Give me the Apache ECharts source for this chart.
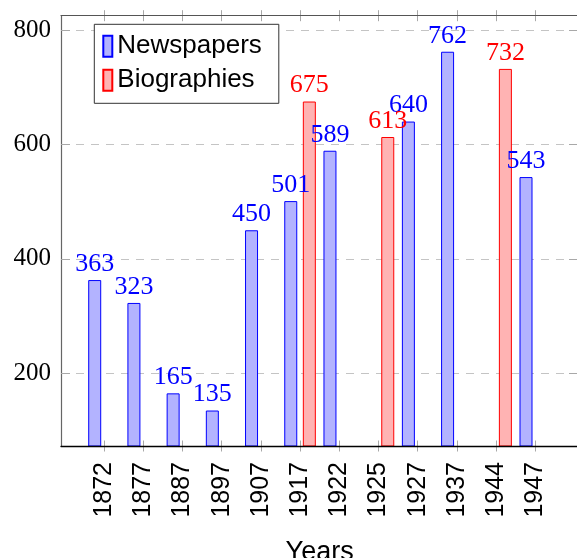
<!DOCTYPE html>
<html>
<head>
<meta charset="utf-8">
<script src="https://cdn.jsdelivr.net/npm/echarts@6/dist/echarts.min.js"></script>
<style>
html,body{margin:0;padding:0;background:#fff;}
#c{width:577px;height:558px;}
</style>
</head>
<body>
<div id="c"></div>
<script>
// ---- data ----
var years = ['1872','1877','1887','1897','1907','1917','1922','1925','1927','1937','1944','1947'];
var newspapers = [363, 323, 165, 135, 450, 501, 589, '-', 640, 762, '-', 543];
var biographies = ['-', '-', '-', '-', '-', 675, '-', 613, '-', '-', 732, '-'];
var yMin = 73, yMax = 825;

var serif = 'Liberation Serif';
var sans = 'Liberation Sans';
var tickGray = '#a8a8a8';

var chart = echarts.init(document.getElementById('c'), null, {renderer: 'canvas'});

function catAxis(pos, inside, extra) {
  var a = {
    type: 'category', gridIndex: 1, data: years, position: pos,
    boundaryGap: true,
    axisLine: {show: false, onZero: false},
    axisTick: {show: true, inside: inside, length: 5.5, alignWithLabel: true, interval: 0,
               lineStyle: {color: tickGray, width: 1}},
    axisLabel: {show: false},
    splitLine: {show: false}
  };
  if (extra) { for (var k in extra) a[k] = extra[k]; }
  return a;
}

var option = {
  animation: false,
  backgroundColor: '#fff',
  grid: [
    {left: 61, top: 15.7, width: 517, height: 430.3, outerBoundsMode: 'none', containLabel: false},
    {left: 84.4, top: 15.7, width: 470.5, height: 430.3, outerBoundsMode: 'none', containLabel: false}
  ],
  legend: {
    data: ['Newspapers', 'Biographies'],
    orient: 'vertical',
    left: 94.3, top: 24.3,
    backgroundColor: '#fff',
    borderColor: '#333', borderWidth: 1, borderRadius: 0,
    padding: [9, 17, 10, 8],
    itemWidth: 9, itemHeight: 21, itemGap: 8,
    icon: 'rect',
    textStyle: {fontFamily: sans, fontSize: 26, color: '#000'}
  },
  xAxis: [
    {type: 'value', gridIndex: 0, min: 0, max: 1, position: 'bottom', z: 5,
     axisLine: {show: true, onZero: false, lineStyle: {color: '#000', width: 1.3}},
     axisTick: {show: false}, axisLabel: {show: false}, splitLine: {show: false}},
    catAxis('bottom', false, {
      axisLabel: {show: true, interval: 0, rotate: 90, margin: 16,
                  fontFamily: sans, fontSize: 25, color: '#000'},
      name: 'Years', nameLocation: 'middle', nameGap: 93,
      nameTextStyle: {fontFamily: sans, fontSize: 27, color: '#000'}
    }),
    catAxis('bottom', true),
    catAxis('top', false),
    catAxis('top', true),
    {type: 'value', gridIndex: 0, min: 0, max: 1, position: 'top', z: 5,
     axisLine: {show: true, onZero: false, lineStyle: {color: '#555', width: 1.2}},
     axisTick: {show: false}, axisLabel: {show: false}, splitLine: {show: false}}
  ],
  yAxis: [
    {type: 'value', gridIndex: 0, min: yMin, max: yMax, position: 'left',
     axisLine: {show: true, onZero: false, lineStyle: {color: '#666', width: 1.2}},
     axisTick: {show: true, inside: true, length: 9, lineStyle: {color: tickGray}},
     axisLabel: {show: true, showMinLabel: false, showMaxLabel: false, margin: 10,
                 fontFamily: serif, fontSize: 25, color: '#000'},
     splitLine: {show: true, showMinLine: false, showMaxLine: false,
                 lineStyle: {color: '#c4c4c4', width: 1, type: [8, 7]}}},
    {type: 'value', gridIndex: 0, min: yMin, max: yMax, position: 'right',
     axisLine: {show: false, onZero: false},
     axisTick: {show: true, inside: true, length: 9, lineStyle: {color: tickGray}},
     axisLabel: {show: false}, splitLine: {show: false}},
    {type: 'value', gridIndex: 1, min: yMin, max: yMax, show: false,
     axisLine: {onZero: false}}
  ],
  series: [
    {
      name: 'Newspapers', type: 'bar', xAxisIndex: 1, yAxisIndex: 2,
      data: newspapers, barWidth: 13, barGap: '43%',
      itemStyle: {color: '#b3b3ff', borderColor: '#0000ff', borderWidth: 1},
      label: {show: true, position: 'top', distance: 3,
              fontFamily: serif, fontSize: 26, color: '#0000ff'}
    },
    {
      name: 'Biographies', type: 'bar', xAxisIndex: 1, yAxisIndex: 2,
      data: biographies, barWidth: 13, barGap: '43%',
      itemStyle: {color: '#ffb3b3', borderColor: '#ff0000', borderWidth: 1},
      label: {show: true, position: 'top', distance: 3,
              fontFamily: serif, fontSize: 26, color: '#ff0000'}
    }
  ]
};
chart.setOption(option);
</script>
</body>
</html>
